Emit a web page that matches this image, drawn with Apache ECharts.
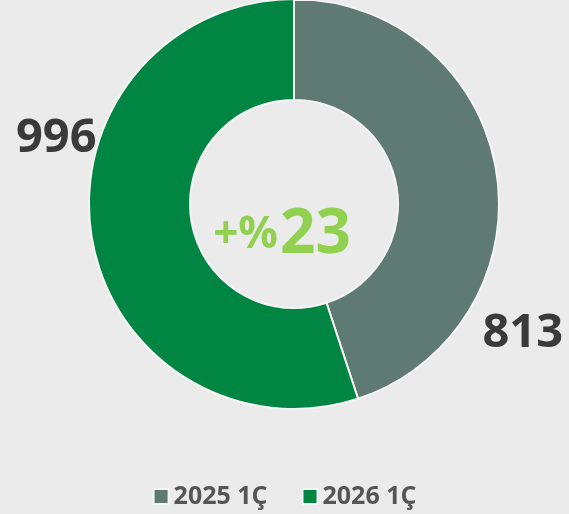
<!DOCTYPE html>
<html>
<head>
<meta charset="utf-8">
<script src="https://cdn.jsdelivr.net/npm/echarts@6/dist/echarts.min.js"></script>
<style>
  html, body { margin: 0; padding: 0; background: #ebebeb; }
  #chart { width: 569px; height: 514px; }
</style>
</head>
<body>
<div id="chart"></div>
<script>
const categories = ['2025 1Ç', '2026 1Ç']
const values = [813, 996]
const colors = ['#5f7a73', '#008542']
// label nudges relative to ECharts' default outside position
const labelShift = [[-14, 162], [5, -98]]

const growth = Math.round((values[1] - values[0]) / values[0] * 100)

const chart = echarts.init(document.getElementById('chart'))

chart.setOption({
  backgroundColor: '#ebebeb',
  title: {
    text: '{s|+%}{b|' + growth + '}',
    left: 277,
    top: 199,
    textAlign: 'center',
    textStyle: {
      rich: {
        s: { fontFamily: 'Open Sans', fontWeight: 'bold', fontSize: 44, color: '#92d050', padding: [0, 2, 0, 0] },
        b: { fontFamily: 'Open Sans', fontWeight: 'bold', fontSize: 62, color: '#92d050' },
      },
    },
  },
  legend: {
    bottom: 0,
    left: 'center',
    itemWidth: 15,
    itemHeight: 15,
    itemGap: 34,
    icon: 'rect',
    textStyle: {
      fontFamily: 'Open Sans',
      fontWeight: 'bold',
      fontSize: 25,
      color: '#555555',
    },
    data: categories,
  },
  series: [
    {
      type: 'pie',
      center: [294, 204],
      radius: [104, 205],
      startAngle: 90,
      clockwise: true,
      silent: true,
      itemStyle: {
        borderColor: '#f4f4f4',
        borderWidth: 2,
      },
      label: {
        position: 'outside',
        formatter: '{c}',
        fontFamily: 'Open Sans',
        fontWeight: 'bold',
        fontSize: 47,
        color: '#3a3a3a',
        overflow: 'none',
        distanceToLabelLine: 0,
      },
      labelLine: { show: false, length: 0, length2: 0 },
      labelLayout: (p) => ({ dx: labelShift[p.dataIndex][0], dy: labelShift[p.dataIndex][1] }),
      data: categories.map((name, i) => ({
        name,
        value: values[i],
        itemStyle: { color: colors[i] },
      })),
    },
  ],
})
</script>
</body>
</html>
